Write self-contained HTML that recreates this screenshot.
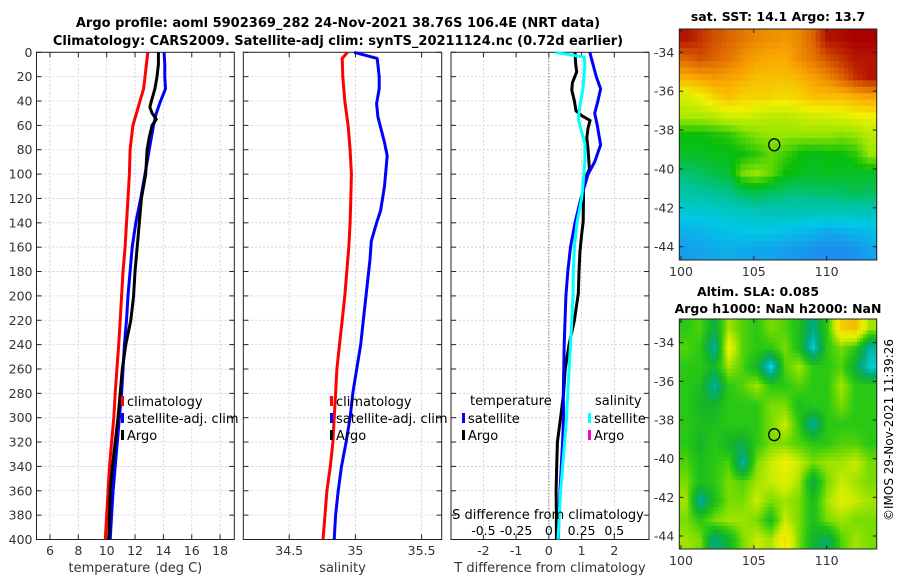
<!DOCTYPE html>
<html><head><meta charset="utf-8"><style>
body{margin:0;background:#fff;}
svg{display:block;font-family:"DejaVu Sans","Liberation Sans",sans-serif;}
</style></head><body>
<svg id="c" width="900" height="580" viewBox="0 0 900 580">
<text x="338" y="27" text-anchor="middle" font-weight="bold" font-size="13">Argo profile: aoml 5902369_282 24-Nov-2021 38.76S 106.4E (NRT data)</text>
<text x="338" y="45" text-anchor="middle" font-weight="bold" font-size="13">Climatology: CARS2009. Satellite-adj clim: synTS_20211124.nc (0.72d earlier)</text>
<text x="778" y="21" text-anchor="middle" font-weight="bold" font-size="12.5">sat. SST: 14.1 Argo: 13.7</text>
<text x="758" y="296" text-anchor="middle" font-weight="bold" font-size="12.5">Altim. SLA: 0.085</text>
<text x="778" y="313" text-anchor="middle" font-weight="bold" font-size="12.5">Argo h1000: NaN h2000: NaN</text>
<text transform="translate(893,430) rotate(-90)" text-anchor="middle" font-size="12">©IMOS 29-Nov-2021 11:39:26</text>
</svg>
<script>
// ---------- data ----------
const tClimDepth=[0,10,20,30,40,50,60,80,100,120,140,160,180,200,220,240,260,280,300,320,340,360,380,400];
const tClimVal=[12.9,12.8,12.7,12.6,12.35,12.1,11.85,11.65,11.6,11.5,11.4,11.3,11.15,11.05,10.95,10.85,10.72,10.6,10.5,10.35,10.2,10.1,10.0,9.9];
const tSatDepth=[0,10,20,30,40,50,60,80,100,120,140,160,180,200,220,240,260,280,300,320,340,360,380,400];
const tSatVal=[14.05,14.1,14.1,14.15,13.8,13.5,13.3,13.0,12.7,12.4,12.05,11.8,11.65,11.5,11.4,11.25,11.15,11.05,10.9,10.75,10.6,10.45,10.35,10.25];
const tArgoDepth=[0,10,20,30,40,45,50,55,60,70,80,100,120,140,160,180,200,220,240,260,280,300,320,340,360,380,400];
const tArgoVal=[13.65,13.65,13.55,13.4,13.15,13.05,13.2,13.5,13.2,13.0,12.85,12.75,12.45,12.3,12.15,12.0,11.9,11.7,11.35,11.1,10.95,10.8,10.6,10.4,10.25,10.2,10.15];
const sClimDepth=[0,5,20,40,60,80,100,120,140,160,180,200,220,240,260,280,300,320,340,360,380,400];
const sClimVal=[34.94,34.90,34.905,34.92,34.945,34.96,34.97,34.965,34.96,34.95,34.935,34.92,34.9,34.88,34.86,34.85,34.84,34.83,34.81,34.785,34.77,34.755];
const sSatDepth=[0,5,20,30,42,53,74,85,110,130,140,155,170,200,220,240,260,280,300,320,340,360,380,400];
const sSatVal=[34.99,35.165,35.18,35.18,35.16,35.17,35.22,35.24,35.22,35.19,35.16,35.12,35.11,35.08,35.06,35.04,35.01,34.98,34.96,34.93,34.895,34.87,34.85,34.84];
const dsSatDepth=[0,4,10,30,45,55,75,90,110,120,140,160,180,200,220,240,260,280,300,320,340,360,380,400];
const dsSatVal=[0.05,0.27,0.275,0.26,0.235,0.225,0.275,0.275,0.26,0.25,0.215,0.195,0.187,0.185,0.175,0.165,0.155,0.145,0.135,0.12,0.105,0.09,0.08,0.07];
const dtSatDepth=[0,10,20,30,40,50,60,76,90,100,120,140,160,180,200,240,280,300,320,340,360,380,400];
const dtSatVal=[1.25,1.35,1.45,1.58,1.5,1.4,1.48,1.58,1.4,1.2,0.98,0.8,0.66,0.58,0.52,0.47,0.44,0.45,0.42,0.38,0.34,0.31,0.29];
const dtArgoDepth=[0,10,16,25,31,40,48,52,56,62,70,80,96,107,120,139,150,164,180,198,220,240,260,280,300,320,340,360,380,400];
const dtArgoVal=[0.8,0.82,0.85,0.72,0.7,0.78,0.83,1.0,1.26,1.2,1.16,1.2,1.24,1.05,1.06,1.05,1.0,0.95,0.92,0.9,0.78,0.62,0.5,0.45,0.36,0.26,0.24,0.22,0.23,0.23];
const depthTicks=[0,20,40,60,80,100,120,140,160,180,200,220,240,260,280,300,320,340,360,380,400];
const tTicks=[6,8,10,12,14,16,18];
const sTicks=[34.5,35,35.5];
const dtTicks=[-2,-1,0,1,2];
const dsTickVals=[-0.5,-0.25,0,0.25,0.5];
const dsTickLabels=["-0.5","-0.25","0","0.25","0.5"];
// SST map (rows north->south, cols west->east), deg C
const sstGrid=[
[16.8,16.5,16.2,16.0,15.8,15.6,15.5,15.4,15.6,16.0,16.8,16.9,17,17],
[16,16.2,16,15.8,15.5,15.3,15.2,15.2,15.5,15.8,16.2,16.5,16.8,16.8],
[15.2,15.3,15.4,15.3,15.2,15,15,15,15.1,15.3,15.6,16,16.5,16.8],
[14.3,14.5,14.8,15,14.8,14.8,14.8,14.7,14.8,15,15,15,15.2,15.3],
[14,14,14.1,14.3,14.3,14.2,14.1,14.1,14.2,14.3,14.3,14.4,14.5,14.5],
[13,13,13.1,13.2,13.5,13.7,13.8,13.8,13.8,13.8,13.8,13.7,13.8,14.1],
[12.8,12.8,12.9,12.9,13,13.2,13.5,13.3,13,12.9,13,13,13.2,13.8],
[12.3,12.4,12.6,12.7,13.6,13.8,13.5,13,12.9,12.8,12.9,12.8,12.8,12.8],
[11.8,11.9,12,12.1,12.4,12.6,12.4,12.3,12.2,12.3,12.3,12.4,12.5,12.4],
[11.2,11.2,11.3,11.4,11.5,11.6,11.6,11.6,11.6,11.6,11.6,11.6,11.6,11.6],
[10.6,10.7,10.8,10.9,11,11,11,10.9,10.8,10.7,10.5,10.6,10.7,10.8],
[10.3,10.4,10.5,10.6,10.5,10.4,10.4,10.3,10.2,10.1,10,10,10.1,10.4]];
const slaGrid=[
[0,0.1,-0.3,0.3,0.1,0,0.2,0.1,-0.1,-0.5,0,0.8,0.9,0.3],
[0.1,0,-0.6,0.6,0.1,0,0,0.2,-0.1,-0.8,0,0.2,0,-0.6],
[0,0,-0.2,0.3,0.1,-0.2,-0.9,0.1,0.3,0,0,0.1,-0.3,-0.8],
[0,-0.1,-0.6,0,0.1,0.3,0,0,0.1,0,0,0.3,0,0],
[0,-0.2,-0.2,0,0,0,0.2,0.2,-0.1,0,0,0.2,0,0],
[0,-0.1,-0.1,0,0,0,0.2,0.4,0,-0.6,0,0,0,0],
[0,-0.2,0,-0.2,-0.3,0,0.2,0.2,0.1,0,0,0.1,0.1,0],
[0.1,-0.1,0,0.1,-0.6,0.2,0.4,0.6,0.4,0.2,0.3,0.3,0.4,0.2],
[0.2,-0.1,0,0.2,0.1,0.3,0.4,0.5,0.3,-0.3,0.2,0.4,0.3,0.2],
[0.3,-0.6,-0.1,0.2,0.2,0.4,0.2,0.3,0.2,-0.1,0.3,0.5,0.4,0.3],
[0.2,0,0.2,0.3,0.3,0.2,-0.1,0.4,0.2,-0.1,0.2,0.3,0.2,0.2],
[0.3,0.2,-0.5,-0.2,0.2,0.4,0.3,0.7,0.2,-0.2,-0.4,0.1,0.3,0.2]];
const latTicks=[-34,-36,-38,-40,-42,-44];
const lonTicks=[100,105,110];
const argoLon=106.4, argoLat=-38.76;

// ---------- helpers ----------
const NS="http://www.w3.org/2000/svg";
const svg=document.getElementById('c');
function mk(tag,attrs,parent){const e=document.createElementNS(NS,tag);for(const k in attrs)e.setAttribute(k,attrs[k]);(parent||svg).appendChild(e);return e;}
const Y0=52.3,Y1=539.5;
const yD=d=>Y0+(d/400)*(Y1-Y0);
function panel(x0,x1,vmin,vmax){return v=>x0+(v-vmin)/(vmax-vmin)*(x1-x0);}
const P1={x0:36.5,x1:234.3}, P2={x0:243.3,x1:441.7}, P3={x0:451,x1:649};
const xT=panel(P1.x0,P1.x1,5.05,19.0);
const xS=panel(P2.x0,P2.x1,34.153,35.652);
const xDT=panel(P3.x0,P3.x1,-2.99,3.06);
const xDS=v=>xDT(0)+v*4*(xDT(1)-xDT(0));

function drawPanel(p,name,xs,ticks,labels,title,showY){
  const g=mk('g',{});
  
  
  mk('rect',{x:p.x0,y:Y0,width:p.x1-p.x0,height:Y1-Y0,fill:'#fff'},g);
  ticks.forEach((t,i)=>{
    const x=xs(t);
    const l=mk('line',{x1:x,x2:x,y1:Y0,y2:Y1,stroke:'#c8c8e6','stroke-width':0.8,'stroke-dasharray':'2,2'},g);
    
    
    mk('line',{x1:x,x2:x,y1:Y1,y2:Y1-5,stroke:'#222'},g);
    mk('line',{x1:x,x2:x,y1:Y0,y2:Y0+5,stroke:'#222'},g);
    const tx=mk('text',{x:x,y:555,'text-anchor':'middle','font-size':12.5,fill:'#333'},g);
    tx.textContent=labels[i];
    
    
  });
  depthTicks.forEach(d=>{
    const y=yD(d);
    const l=mk('line',{x1:p.x0,x2:p.x1,y1:y,y2:y,stroke:'#c8c8e6','stroke-width':0.8,'stroke-dasharray':'2,2'},g);
    
    
    mk('line',{x1:p.x0,x2:p.x0+5,y1:y,y2:y,stroke:'#222'},g);
    mk('line',{x1:p.x1,x2:p.x1-5,y1:y,y2:y,stroke:'#222'},g);
    if(showY){
      const tx=mk('text',{x:p.x0-4,y:y+4.5,'text-anchor':'end','font-size':12.5,fill:'#333'},g);
      tx.textContent=d;
      
      
    }
  });
  mk('rect',{x:p.x0,y:Y0,width:p.x1-p.x0,height:Y1-Y0,fill:'none',stroke:'#222','stroke-width':1},g);
  const at=mk('text',{x:(p.x0+p.x1)/2,y:572,'text-anchor':'middle','font-size':13,fill:'#333'},g);
  at.textContent=title;
  
  
  return g;
}
function line(depths,vals,xs,color,name,w){
  const pts=depths.map((d,i)=>xs(vals[i]).toFixed(1)+','+yD(d).toFixed(1)).join(' ');
  const pl=mk('polyline',{points:pts,fill:'none',stroke:color,'stroke-width':w||3,'stroke-linejoin':'round'});
  
  
}
function legendEntry(x,y,color,label,name){
  const g=mk('g',{});
  
  
  mk('rect',{x:x,y:y-9,width:3,height:10,fill:color},g);
  const t=mk('text',{x:x+6,y:y+1,'font-size':13},g);
  t.textContent=label;
}
function txt(x,y,s,name,anchor,size){
  const t=mk('text',{x:x,y:y,'font-size':size||13,'text-anchor':anchor||'start'});
  t.textContent=s;
  
  
}

// ---------- panel 1 ----------
drawPanel(P1,'temperature-panel',xT,tTicks,tTicks.map(String),'temperature (deg C)',true);
line(tClimDepth,tClimVal,xT,'#f00','temp-climatology-line');
line(tSatDepth,tSatVal,xT,'#00f','temp-satellite-line');
line(tArgoDepth,tArgoVal,xT,'#000','temp-argo-line');
legendEntry(121,405,'#f00','climatology','legend-climatology');
legendEntry(121,422,'#00f','satellite-adj. clim','legend-satellite-adj');
legendEntry(121,439,'#000','Argo','legend-argo');

// ---------- panel 2 ----------
drawPanel(P2,'salinity-panel',xS,sTicks,sTicks.map(String),'salinity',false);
line(sClimDepth,sClimVal,xS,'#f00','sal-climatology-line');
line(sSatDepth,sSatVal,xS,'#00f','sal-satellite-line');
legendEntry(330,405,'#f00','climatology','legend-sal-climatology');
legendEntry(330,422,'#00f','satellite-adj. clim','legend-sal-satellite-adj');
legendEntry(330,439,'#000','Argo','legend-sal-argo');

// ---------- panel 3 ----------
drawPanel(P3,'difference-panel',xDT,dtTicks,dtTicks.map(String),'T difference from climatology',false);
const zl=mk('line',{x1:xDT(0),x2:xDT(0),y1:Y0,y2:Y1,stroke:'#3a6a2a','stroke-width':1,'stroke-dasharray':'1,2'});


line(dtArgoDepth,dtArgoVal,xDT,'#000','dt-argo-line');
line(dtSatDepth,dtSatVal,xDT,'#00f','dt-satellite-line');
line(dsSatDepth,dsSatVal,xDS,'#0ff','ds-satellite-line');
txt(470,405,'temperature','legend-temperature-heading');
legendEntry(462,422,'#00f','satellite','legend-dt-satellite');
legendEntry(462,439,'#000','Argo','legend-dt-argo');
txt(595,405,'salinity','legend-salinity-heading');
legendEntry(588,422,'#0ff','satellite','legend-ds-satellite');
legendEntry(588,439,'#f0c','Argo','legend-ds-argo');
txt(548,519,'S difference from climatology','s-axis-title','middle',13);
dsTickVals.forEach((v,i)=>{
  const t=mk('text',{x:xDS(v),y:535,'text-anchor':'middle','font-size':12.5});
  t.textContent=dsTickLabels[i];
  
  
});

// ---------- maps ----------
function lerpColor(stops,v){
  if(v<=stops[0][0])return stops[0][1];
  for(let i=1;i<stops.length;i++){if(v<=stops[i][0]){const a=stops[i-1],b=stops[i],f=(v-a[0])/(b[0]-a[0]);return a[1].map((c,k)=>Math.round(c+(b[1][k]-c)*f));}}
  return stops[stops.length-1][1];
}
const sstStops=[[10,[30,140,240]],[11,[0,200,230]],[12,[0,195,150]],[13,[10,190,10]],[13.8,[150,230,0]],[14.5,[240,240,0]],[15.2,[250,170,0]],[16,[220,100,0]],[17,[170,0,0]]];
const slaStops=[[-0.9,[0,215,225]],[-0.5,[0,170,130]],[-0.2,[20,180,40]],[0,[40,200,20]],[0.2,[120,220,0]],[0.4,[200,235,0]],[0.6,[240,240,0]],[0.9,[240,190,0]]];
function sample(grid,fr,fc){
  const rows=grid.length,cols=grid[0].length;
  fr=Math.max(0,Math.min(rows-1,fr));fc=Math.max(0,Math.min(cols-1,fc));
  const r0=Math.floor(fr),c0=Math.floor(fc),r1=Math.min(rows-1,r0+1),c1=Math.min(cols-1,c0+1);
  const a=fr-r0,b=fc-c0;
  return grid[r0][c0]*(1-a)*(1-b)+grid[r0][c1]*(1-a)*b+grid[r1][c0]*a*(1-b)+grid[r1][c1]*a*b;
}
function drawMap(name,grid,stops,mx0,mx1,my0,my1,lat34y,lat44y,sub){
  const g=mk('g',{});
  
  
  const lonX=lon=>681+(lon-100)*(826.7-681)/10;
  const latY=lat=>lat34y+(-34-lat)*(lat44y-lat34y)/10;
  const rows=grid.length,cols=grid[0].length;
  const nr=rows*sub,nc=cols*sub;
  const cw=(mx1-mx0)/nc,ch=(my1-my0)/nr;
  for(let r=0;r<nr;r++)for(let c=0;c<nc;c++){
    const v=sample(grid,(r+0.5)/sub-0.5,(c+0.5)/sub-0.5);
    const col=lerpColor(stops,v);
    mk('rect',{x:(mx0+c*cw).toFixed(2),y:(my0+r*ch).toFixed(2),width:(cw+0.5).toFixed(2),height:(ch+0.5).toFixed(2),fill:'rgb('+col.join(',')+')'},g);
  }
  mk('rect',{x:mx0,y:my0,width:mx1-mx0,height:my1-my0,fill:'none',stroke:'#222'},g);
  latTicks.forEach(l=>{const y=latY(l);
    mk('line',{x1:mx0,x2:mx0+4,y1:y,y2:y,stroke:'#222'},g);
    mk('line',{x1:mx1,x2:mx1-4,y1:y,y2:y,stroke:'#222'},g);
    const t=mk('text',{x:mx0-5,y:y+4.5,'text-anchor':'end','font-size':12.5,fill:'#333'},g);t.textContent=l;
    
    });
  lonTicks.forEach(l=>{const x=lonX(l);
    mk('line',{x1:x,x2:x,y1:my1,y2:my1-4,stroke:'#222'},g);
    mk('line',{x1:x,x2:x,y1:my0,y2:my0+4,stroke:'#222'},g);
    const t=mk('text',{x:x,y:my1+16,'text-anchor':'middle','font-size':12.5,fill:'#333'},g);t.textContent=l;
    
    });
  const m=mk('ellipse',{cx:lonX(argoLon),cy:latY(argoLat),rx:5.5,ry:6,fill:'none',stroke:'#000','stroke-width':1.3},g);
  
  
}
drawMap('sst-map',sstGrid,sstStops,679.3,876.7,29,260,52.3,246.7,3);
drawMap('sla-map',slaGrid,slaStops,679.3,876.7,319,549,342.7,536,5);
</script>
</body></html>
